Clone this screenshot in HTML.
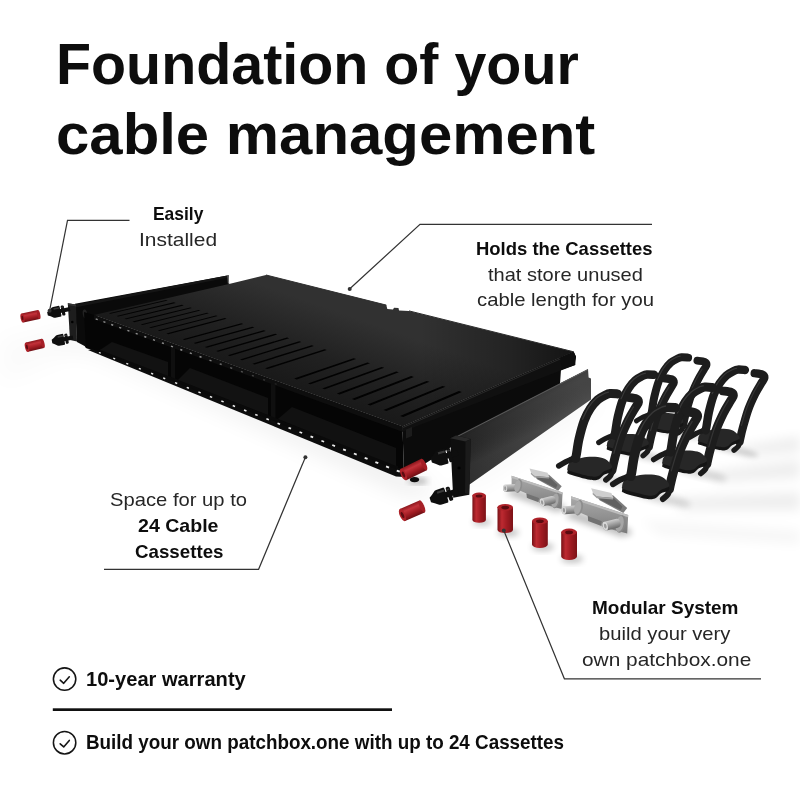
<!DOCTYPE html>
<html><head><meta charset="utf-8">
<style>
html,body{margin:0;padding:0;background:#fff;}
body{width:800px;height:800px;position:relative;overflow:hidden;font-family:"Liberation Sans",sans-serif;color:#111;}
.t{position:absolute;white-space:nowrap;line-height:1;transform-origin:0 0;color:#262626;}
.b{font-weight:bold;color:#0d0d0d;}
#art{position:absolute;left:0;top:0;}
</style></head><body>
<svg id="art" width="800" height="800" viewBox="0 0 800 800">
<!--ART-START-->
<defs>
<filter id="bl12" x="-20%" y="-50%" width="140%" height="200%"><feGaussianBlur stdDeviation="12"/></filter>
<filter id="bl6" x="-20%" y="-50%" width="140%" height="200%"><feGaussianBlur stdDeviation="6"/></filter>
<filter id="bl3" x="-20%" y="-50%" width="140%" height="200%"><feGaussianBlur stdDeviation="3"/></filter>
<linearGradient id="gTop" x1="248" y1="372" x2="277" y2="290" gradientUnits="userSpaceOnUse"><stop offset="0" stop-color="#191919"/><stop offset="0.45" stop-color="#212121"/><stop offset="1" stop-color="#313131"/></linearGradient>
<linearGradient id="gTopR" x1="420" y1="0" x2="575" y2="0" gradientUnits="userSpaceOnUse"><stop offset="0" stop-color="#000" stop-opacity="0"/><stop offset="0.6" stop-color="#000" stop-opacity="0.3"/><stop offset="1" stop-color="#000" stop-opacity="0.6"/></linearGradient>
<linearGradient id="gPanel" x1="455" y1="445" x2="585" y2="400" gradientUnits="userSpaceOnUse"><stop offset="0" stop-color="#222"/><stop offset="0.3" stop-color="#2e2e2e"/><stop offset="0.7" stop-color="#3c3c3c"/><stop offset="1" stop-color="#454545"/></linearGradient>
<linearGradient id="gPanel2" x1="500" y1="400" x2="520" y2="440" gradientUnits="userSpaceOnUse"><stop offset="0" stop-color="#000" stop-opacity="0.25"/><stop offset="0.4" stop-color="#000" stop-opacity="0.0"/><stop offset="1" stop-color="#fff" stop-opacity="0.06"/></linearGradient>
<linearGradient id="gEdge" x1="0" y1="0" x2="0" y2="1"><stop offset="0" stop-color="#3a3a3a"/><stop offset="0.5" stop-color="#1c1c1c"/><stop offset="1" stop-color="#0a0a0a"/></linearGradient>
<linearGradient id="gRed" x1="0" y1="0" x2="1" y2="0"><stop offset="0" stop-color="#771116"/><stop offset="0.28" stop-color="#bd2a31"/><stop offset="0.6" stop-color="#a01b22"/><stop offset="1" stop-color="#7c1217"/></linearGradient>
<linearGradient id="gRedL" x1="0" y1="0" x2="0" y2="1"><stop offset="0" stop-color="#8a161c"/><stop offset="0.3" stop-color="#c2323a"/><stop offset="0.65" stop-color="#a01b22"/><stop offset="1" stop-color="#6e0f14"/></linearGradient>
<linearGradient id="gSil" x1="0" y1="0" x2="0" y2="1"><stop offset="0" stop-color="#aaaaaa"/><stop offset="0.5" stop-color="#939393"/><stop offset="1" stop-color="#7a7a7a"/></linearGradient>
<linearGradient id="gStud" x1="0" y1="0" x2="0" y2="1"><stop offset="0" stop-color="#cfcfcf"/><stop offset="0.45" stop-color="#a2a2a2"/><stop offset="1" stop-color="#6a6a6a"/></linearGradient>
</defs>
<g filter="url(#bl12)" opacity="0.10"><polygon points="40,335 95,350 410,492 440,494 400,470 90,340" fill="#000"/><polygon points="468,490 600,402 585,392 460,480" fill="#000" opacity="0.45"/><polygon points="0,338 80,328 80,350 0,385" fill="#000" opacity="0.2"/></g>
<g filter="url(#bl6)" opacity="0.065"><polygon points="742,446 800,436 800,452 745,456" fill="#000"/><polygon points="712,471 800,460 800,478 716,482" fill="#000"/><polygon points="676,498 800,492 800,510 680,510" fill="#000"/><polygon points="640,520 800,530 800,545 660,535" fill="#000" opacity="0.5"/></g>
<polygon points="75.0,303.8 228.7,275.2 229.2,284.8 96.0,316.0 92.0,350.0 77.0,342.0" fill="#0a0a0a"/>
<polygon points="75.5,304.5 228.7,275.2 228.8,277.6 76.0,307.2" fill="#151515"/>
<polyline points="228,275.3 228.4,283.5" stroke="#9a9a9a" stroke-width="0.9" fill="none"/>
<polygon points="67.8,303.2 76.0,304.6 77.0,341.5 70.0,340.0" fill="#1d1d1d"/>
<polygon points="67.8,303.2 76.0,304.6 76.1,306.4 68.0,305.0" fill="#333"/>
<circle cx="72.3" cy="322" r="1.3" fill="#000"/>
<circle cx="88.7" cy="344.7" r="4" fill="#0a0a0a"/><circle cx="89" cy="345" r="1.6" fill="#e8e8e8"/>
<ellipse cx="85" cy="314" rx="2.2" ry="4.5" fill="#222" transform="rotate(-10 85 314)"/>
<polygon points="84.0,312.0 94.0,315.0 402.5,426.6 404.0,476.0 398.0,476.0 86.0,347.5" fill="#050505"/>
<polygon points="92.0,349.0 404.0,470.0 404.0,477.0 396.0,476.5 88.0,350.0" fill="#0c0c0c"/>
<polygon points="171.0,345.0 175.0,346.5 175.0,384.0 171.0,382.0" fill="#0f0f0f"/>
<polygon points="271.0,381.5 275.5,383.0 275.5,424.5 271.0,422.5" fill="#0f0f0f"/>
<polygon points="100.0,349.0 398.0,466.0 398.0,470.0 100.0,352.5" fill="#0a0a0a"/>
<polygon points="112.0,342.0 168.0,362.0 168.0,376.0 100.0,350.0" fill="#121212"/>
<polygon points="190.0,368.0 268.0,398.0 268.0,415.0 178.0,380.0" fill="#121212"/>
<polygon points="292.0,407.0 396.0,448.0 396.0,466.0 278.0,419.0" fill="#111"/>
<polygon points="402.5,426.6 573.7,351.8 576.0,357.0 574.5,362.5 561.0,369.5 560.0,384.0 452.0,442.0 452.0,446.5 404.0,477.0" fill="#0b0b0b"/>
<polygon points="94.0,315.0 229.0,284.0 266.0,275.0 386.3,305.1 387.3,309.0 393.0,309.4 394.0,307.7 398.5,308.0 399.0,310.4 409.0,310.9 573.7,351.8 402.5,426.6" fill="url(#gTop)"/>
<polygon points="94.0,315.0 229.0,284.0 266.0,275.0 386.3,305.1 387.3,309.0 393.0,309.4 394.0,307.7 398.5,308.0 399.0,310.4 409.0,310.9 573.7,351.8 402.5,426.6" fill="url(#gTopR)"/>
<polygon points="402.5,426.6 573.7,351.8 575.2,365.0 403.0,431.5" fill="#101010"/>
<polyline points="403.0,427.5 574.0,353.0" fill="none" stroke="#333" stroke-width="1" opacity="0.7"/>
<polygon points="560.0,357.5 573.7,351.8 576.0,356.5 575.2,365.0 562.0,369.5" fill="#0e0e0e"/>
<polygon points="94.0,315.0 402.5,426.6 403.0,432.0 94.0,319.3" fill="#0e0e0e"/>
<polyline points="266.0,275.0 386.3,305.1" fill="none" stroke="#2e2e2e" stroke-width="1"/>
<polyline points="409.0,310.9 573.7,351.8" fill="none" stroke="#2e2e2e" stroke-width="1"/>
<polygon points="406.0,429.5 412.0,427.0 412.0,436.0 406.0,438.5" fill="#1c1c1c"/>
<g fill="#020202"><polygon points="108.9,313.3 166.1,299.9 167.7,300.4 110.5,313.8"/><polygon points="116.6,316.0 173.9,302.3 175.6,302.9 118.2,316.6"/><polygon points="124.5,318.8 182.0,304.8 183.7,305.4 126.1,319.3"/><polygon points="132.5,321.6 190.2,307.4 191.9,307.9 134.2,322.2"/><polygon points="140.7,324.5 198.6,310.0 200.4,310.6 142.4,325.1"/><polygon points="149.1,327.4 207.1,312.7 208.9,313.2 150.9,328.1"/><polygon points="157.7,330.5 215.9,315.4 217.7,315.9 159.5,331.1"/><polygon points="166.4,333.5 224.8,318.1 226.6,318.7 168.2,334.2"/><polygon points="182.8,339.3 241.4,323.3 243.3,323.9 184.7,340.0"/><polygon points="193.6,343.1 252.4,326.7 254.4,327.4 195.6,343.8"/><polygon points="204.7,347.0 263.7,330.2 265.7,330.9 206.8,347.8"/><polygon points="216.2,351.1 275.2,333.8 277.3,334.5 218.2,351.8"/><polygon points="227.9,355.2 287.0,337.5 289.2,338.2 230.0,356.0"/><polygon points="240.0,359.5 299.2,341.3 301.4,342.0 242.2,360.2"/><polygon points="252.4,363.8 311.7,345.2 313.9,345.9 254.6,364.6"/><polygon points="265.1,368.3 324.5,349.2 326.8,349.9 267.4,369.1"/><polygon points="294.2,378.6 353.6,358.2 356.1,359.0 296.7,379.4"/><polygon points="308.0,383.4 367.4,362.5 370.0,363.3 310.5,384.3"/><polygon points="322.2,388.4 381.6,366.9 384.2,367.7 324.8,389.3"/><polygon points="336.8,393.6 396.2,371.5 398.9,372.3 339.5,394.5"/><polygon points="351.9,398.9 411.2,376.1 413.9,377.0 354.7,399.9"/><polygon points="367.5,404.4 426.6,380.9 429.5,381.8 370.3,405.4"/><polygon points="383.5,410.0 442.5,385.9 445.4,386.8 386.5,411.1"/><polygon points="400.1,415.9 458.9,391.0 461.9,391.9 403.2,417.0"/></g>
<g fill="#e9e9e9"><rect x="96.7" y="318.8" width="2.1" height="1.4" opacity="0.60" transform="rotate(20 97.9 316.4)"/><rect x="104.4" y="321.6" width="2.1" height="1.4" opacity="0.60" transform="rotate(20 105.6 319.2)"/><rect x="112.2" y="324.4" width="2.1" height="1.4" opacity="0.60" transform="rotate(20 113.4 322.0)"/><rect x="120.2" y="327.3" width="2.1" height="1.4" opacity="0.60" transform="rotate(20 121.4 324.9)"/><rect x="128.4" y="330.3" width="2.1" height="1.4" opacity="0.60" transform="rotate(20 129.6 327.9)"/><rect x="136.7" y="333.3" width="2.1" height="1.4" opacity="0.60" transform="rotate(20 137.9 330.9)"/><rect x="145.3" y="336.4" width="2.1" height="1.4" opacity="0.60" transform="rotate(20 146.5 334.0)"/><rect x="154.0" y="339.5" width="2.1" height="1.4" opacity="0.60" transform="rotate(20 155.2 337.1)"/><rect x="162.9" y="342.7" width="2.1" height="1.4" opacity="0.60" transform="rotate(20 164.1 340.3)"/><rect x="172.0" y="346.0" width="2.1" height="1.4" opacity="0.60" transform="rotate(20 173.2 343.6)"/><rect x="181.3" y="349.4" width="2.1" height="1.4" opacity="0.60" transform="rotate(20 182.5 347.0)"/><rect x="190.8" y="352.8" width="2.1" height="1.4" opacity="0.60" transform="rotate(20 192.0 350.4)"/><rect x="200.5" y="356.4" width="2.1" height="1.4" opacity="0.59" transform="rotate(20 201.7 354.0)"/><rect x="210.5" y="360.0" width="2.1" height="1.4" opacity="0.52" transform="rotate(20 211.7 357.6)"/><rect x="220.7" y="363.7" width="2.1" height="1.4" opacity="0.45" transform="rotate(20 221.9 361.3)"/><rect x="231.2" y="367.5" width="2.1" height="1.4" opacity="0.38" transform="rotate(20 232.4 365.1)"/><rect x="241.9" y="371.3" width="2.1" height="1.4" opacity="0.31" transform="rotate(20 243.1 368.9)"/><rect x="252.9" y="375.3" width="2.1" height="1.4" opacity="0.24" transform="rotate(20 254.1 372.9)"/><rect x="264.1" y="379.4" width="2.1" height="1.4" opacity="0.16" transform="rotate(20 265.3 377.0)"/><rect x="275.7" y="383.6" width="2.1" height="1.4" opacity="0.09" transform="rotate(20 276.9 381.2)"/></g>
<g fill="#ededed"><rect x="98.7" y="352.3" width="2.0" height="1.3" transform="rotate(21 100.0 353.2)"/><rect x="113.1" y="358.0" width="2.0" height="1.3" transform="rotate(21 114.4 358.9)"/><rect x="126.1" y="363.1" width="2.1" height="1.3" transform="rotate(21 127.4 364.0)"/><rect x="138.7" y="368.1" width="2.1" height="1.4" transform="rotate(21 140.0 369.0)"/><rect x="151.0" y="373.0" width="2.2" height="1.4" transform="rotate(21 152.3 373.9)"/><rect x="163.0" y="377.7" width="2.2" height="1.4" transform="rotate(21 164.3 378.6)"/><rect x="174.9" y="382.4" width="2.3" height="1.4" transform="rotate(21 176.2 383.3)"/><rect x="186.6" y="387.1" width="2.3" height="1.5" transform="rotate(21 187.9 388.0)"/><rect x="198.3" y="391.7" width="2.4" height="1.5" transform="rotate(21 199.6 392.6)"/><rect x="209.8" y="396.2" width="2.4" height="1.5" transform="rotate(21 211.1 397.1)"/><rect x="221.2" y="400.7" width="2.5" height="1.5" transform="rotate(21 222.5 401.6)"/><rect x="232.6" y="405.2" width="2.5" height="1.6" transform="rotate(21 233.9 406.1)"/><rect x="243.9" y="409.7" width="2.6" height="1.6" transform="rotate(21 245.2 410.6)"/><rect x="255.1" y="414.1" width="2.6" height="1.6" transform="rotate(21 256.4 415.0)"/><rect x="266.3" y="418.5" width="2.6" height="1.6" transform="rotate(21 267.6 419.4)"/><rect x="277.4" y="422.9" width="2.7" height="1.6" transform="rotate(21 278.7 423.8)"/><rect x="288.4" y="427.3" width="2.7" height="1.7" transform="rotate(21 289.7 428.2)"/><rect x="299.4" y="431.6" width="2.8" height="1.7" transform="rotate(21 300.7 432.5)"/><rect x="310.4" y="436.0" width="2.8" height="1.7" transform="rotate(21 311.7 436.9)"/><rect x="321.3" y="440.3" width="2.9" height="1.7" transform="rotate(21 322.6 441.2)"/><rect x="332.2" y="444.6" width="2.9" height="1.8" transform="rotate(21 333.5 445.5)"/><rect x="343.0" y="448.9" width="3.0" height="1.8" transform="rotate(21 344.3 449.8)"/><rect x="353.8" y="453.1" width="3.0" height="1.8" transform="rotate(21 355.1 454.0)"/><rect x="364.6" y="457.4" width="3.1" height="1.8" transform="rotate(21 365.9 458.3)"/><rect x="375.3" y="461.6" width="3.1" height="1.9" transform="rotate(21 376.6 462.5)"/><rect x="386.0" y="465.9" width="3.2" height="1.9" transform="rotate(21 387.3 466.8)"/><rect x="396.7" y="470.1" width="3.2" height="1.9" transform="rotate(21 398.0 471.0)"/></g>
<polygon points="451.7,438.4 588.0,369.0 588.6,377.5 591.0,378.5 591.0,399.5 469.5,484.5 466.0,484.0" fill="url(#gPanel)"/>
<polygon points="451.7,438.4 588.0,369.0 588.6,377.5 591.0,378.5 591.0,399.5 469.5,484.5 466.0,484.0" fill="url(#gPanel2)"/>
<polyline points="452.0,439.2 588.0,369.6" fill="none" stroke="#5a5a5a" stroke-width="1"/>
<polygon points="450.2,438.2 456.0,435.5 471.0,439.0 470.4,447.0 469.2,494.8 453.2,497.8" fill="#0e0e0e"/>
<polygon points="450.2,438.2 456.0,435.5 471.0,439.0 465.5,441.5" fill="#2a2a2a"/>
<polygon points="465.5,441.5 471.0,439.0 469.2,494.8 465.0,493.0" fill="#1b1b1b"/>
<circle cx="459" cy="468" r="1.6" fill="#000"/>
<g transform="translate(47.5,313.8) rotate(-12.0)" fill="#0e0e0e"><rect x="11.5" y="-2.0" width="11.5" height="4.0"/><path d="M0,-1.7 Q2.3,-2.8 5.5,-5.2 L6.9,-5.5 L12.9,-5.5 L13.3,-4.4 L13.3,4.4 L12.9,5.5 L6.9,5.5 L5.5,5.2 Q2.3,2.8 0,1.7 Z"/><rect x="14.3" y="-5.1" width="3.2" height="10.2" rx="1.2"/><rect x="6.9" y="-4.1" width="5.8" height="1.5" fill="#3a3a3a"/><rect x="14.7" y="-3.9" width="2.3" height="1.2" fill="#333"/></g>
<g transform="translate(52.0,341.5) rotate(-10.8)" fill="#0e0e0e"><rect x="10.7" y="-2.0" width="10.7" height="4.0"/><path d="M0,-1.7 Q2.1,-2.8 5.1,-5.2 L6.4,-5.5 L12.0,-5.5 L12.4,-4.4 L12.4,4.4 L12.0,5.5 L6.4,5.5 L5.1,5.2 Q2.1,2.8 0,1.7 Z"/><rect x="13.3" y="-5.1" width="3.0" height="10.2" rx="1.1"/><rect x="6.4" y="-4.1" width="5.3" height="1.5" fill="#3a3a3a"/><rect x="13.7" y="-3.9" width="2.1" height="1.2" fill="#333"/></g>
<g transform="translate(431.3,460.2) rotate(-15.5)" fill="#0e0e0e"><rect x="13.9" y="-2.8" width="13.9" height="5.6"/><path d="M0,-2.3 Q2.8,-3.9 6.6,-7.4 L8.3,-7.8 L15.5,-7.8 L16.1,-6.3 L16.1,6.3 L15.5,7.8 L8.3,7.8 L6.6,7.4 Q2.8,3.9 0,2.3 Z"/><rect x="17.2" y="-7.2" width="3.9" height="14.4" rx="1.4"/><rect x="8.3" y="-5.9" width="6.9" height="2.2" fill="#3a3a3a"/><rect x="17.7" y="-5.5" width="2.8" height="1.7" fill="#333"/></g>
<g transform="translate(430.3,500.0) rotate(-18.0)" fill="#0e0e0e"><rect x="14.6" y="-2.8" width="14.6" height="5.6"/><path d="M0,-2.3 Q2.9,-3.9 7.0,-7.4 L8.7,-7.8 L16.3,-7.8 L16.9,-6.3 L16.9,6.3 L16.3,7.8 L8.7,7.8 L7.0,7.4 Q2.9,3.9 0,2.3 Z"/><rect x="18.1" y="-7.2" width="4.1" height="14.4" rx="1.5"/><rect x="8.7" y="-5.9" width="7.3" height="2.2" fill="#3a3a3a"/><rect x="18.6" y="-5.5" width="2.9" height="1.7" fill="#333"/></g>
<g transform="translate(22.5,318.0) rotate(-11.9)"><rect x="0" y="-4.6" width="16.6" height="9.2" fill="url(#gRedL)"/><ellipse cx="16.6" cy="0" rx="1.5" ry="4.6" fill="#a51f26"/><ellipse cx="0" cy="0" rx="1.9" ry="4.6" fill="#ae2229"/><ellipse cx="0" cy="0" rx="0.9" ry="2.3" fill="#5d0c11"/></g>
<g transform="translate(27.0,347.2) rotate(-13.5)"><rect x="0" y="-4.8" width="16.3" height="9.6" fill="url(#gRedL)"/><ellipse cx="16.3" cy="0" rx="1.6" ry="4.8" fill="#a51f26"/><ellipse cx="0" cy="0" rx="2.0" ry="4.8" fill="#ae2229"/><ellipse cx="0" cy="0" rx="1.0" ry="2.4" fill="#5d0c11"/></g>
<ellipse cx="418" cy="481" rx="10" ry="2.5" fill="#000" opacity="0.35" filter="url(#bl3)"/>
<ellipse cx="414.5" cy="479.6" rx="4.6" ry="2.6" fill="#0c0c0c"/>
<g transform="translate(403.5,474.5) rotate(-26.0)"><rect x="0" y="-6.3" width="22.8" height="12.6" fill="url(#gRedL)"/><ellipse cx="22.8" cy="0" rx="2.1" ry="6.3" fill="#a51f26"/><ellipse cx="0" cy="0" rx="2.6" ry="6.3" fill="#ae2229"/><ellipse cx="0" cy="0" rx="1.3" ry="3.1" fill="#5d0c11"/></g>
<g transform="translate(402.5,515.0) rotate(-23.6)"><rect x="0" y="-6.6" width="21.3" height="13.2" fill="url(#gRedL)"/><ellipse cx="21.3" cy="0" rx="2.2" ry="6.6" fill="#a51f26"/><ellipse cx="0" cy="0" rx="2.8" ry="6.6" fill="#ae2229"/><ellipse cx="0" cy="0" rx="1.3" ry="3.3" fill="#5d0c11"/></g>
<ellipse cx="482.1" cy="522.0" rx="9.4" ry="3.3" fill="#000" opacity="0.25" filter="url(#bl3)"/><path d="M472.4,495.6 L472.4,520.0 A6.8,3.0 0 0 0 485.9,520.0 L485.9,495.6 Z" fill="url(#gRed)"/><ellipse cx="479.1" cy="495.6" rx="6.8" ry="3.0" fill="#ae2229"/><ellipse cx="479.1" cy="495.9" rx="3.4" ry="1.5" fill="#5a0b10"/>
<ellipse cx="508.2" cy="532.5" rx="10.8" ry="3.8" fill="#000" opacity="0.25" filter="url(#bl3)"/><path d="M497.5,507.3 L497.5,530.1 A7.8,3.4 0 0 0 513.0,530.1 L513.0,507.3 Z" fill="url(#gRed)"/><ellipse cx="505.2" cy="507.3" rx="7.8" ry="3.4" fill="#ae2229"/><ellipse cx="505.2" cy="507.6" rx="3.9" ry="1.8" fill="#5a0b10"/>
<ellipse cx="542.9" cy="547.0" rx="11.1" ry="3.8" fill="#000" opacity="0.25" filter="url(#bl3)"/><path d="M532.0,520.9 L532.0,544.5 A7.9,3.5 0 0 0 547.8,544.5 L547.8,520.9 Z" fill="url(#gRed)"/><ellipse cx="539.9" cy="520.9" rx="7.9" ry="3.5" fill="#ae2229"/><ellipse cx="539.9" cy="521.2" rx="3.9" ry="1.8" fill="#5a0b10"/>
<ellipse cx="572.1" cy="559.0" rx="11.1" ry="3.8" fill="#000" opacity="0.25" filter="url(#bl3)"/><path d="M561.2,532.1 L561.2,556.5 A7.9,3.5 0 0 0 577.0,556.5 L577.0,532.1 Z" fill="url(#gRed)"/><ellipse cx="569.1" cy="532.1" rx="7.9" ry="3.5" fill="#ae2229"/><ellipse cx="569.1" cy="532.4" rx="3.9" ry="1.8" fill="#5a0b10"/>
<g transform="translate(0.0,0.0) scale(1.0)"><polygon points="506,494 556,512 566,510 564,505 514,488" fill="#000" opacity="0.25" filter="url(#bl3)"/><polygon points="511.6,475.7 562.6,492.4 561.7,509 548,505.5 539,502.5 538.5,499.5 527,495.5 526.5,493.5 511.6,487" fill="url(#gSil)"/><polygon points="511.6,475.7 562.6,492.4 562.4,494.6 511.6,477.9" fill="#bcbcbc"/><polygon points="526.5,493.5 539,498 538.6,502.3 526.8,497.8" fill="#727272"/><g transform="translate(503.2,488.4) rotate(-4)"><rect x="0" y="-3.6" width="15" height="7.2" rx="3" fill="url(#gStud)"/><ellipse cx="2" cy="0" rx="2" ry="3.6" fill="#d4d4d4"/><ellipse cx="2" cy="0" rx="1" ry="2" fill="#9a9a9a"/></g><ellipse cx="518.5" cy="486" rx="3.6" ry="7" fill="#8e8e8e" transform="rotate(12 518.5 486)"/><ellipse cx="517.5" cy="486" rx="3" ry="6.2" fill="#aaa" transform="rotate(12 517.5 486)"/><ellipse cx="556" cy="500.5" rx="4" ry="8" fill="#888" transform="rotate(12 556 500.5)"/><ellipse cx="555" cy="500.5" rx="3.4" ry="7.2" fill="#a6a6a6" transform="rotate(12 555 500.5)"/><g transform="translate(540,503) rotate(-14)"><rect x="0" y="-4" width="16" height="8" rx="3.4" fill="url(#gStud)"/><ellipse cx="2.2" cy="0" rx="2.2" ry="4" fill="#d8d8d8"/><ellipse cx="2.2" cy="0" rx="1.1" ry="2.2" fill="#9a9a9a"/></g><polygon points="534.4,475.5 549,474.8 561.7,486.2 558.2,490.8 537,479.3" fill="#7c7c7c"/><polygon points="536,476.5 548,476 557.5,485 556,488 538,479" fill="#616161"/><polygon points="529.5,468.6 547.5,472.8 549.4,477.3 535,475.9 531,472.5" fill="#cecece"/><polygon points="531,472.5 535,475.9 549.4,477.3 549,478.6 534.5,477.5 530.8,474" fill="#a0a0a0"/></g>
<g transform="translate(-1.9,-36.6) scale(1.12)"><polygon points="506,494 556,512 566,510 564,505 514,488" fill="#000" opacity="0.25" filter="url(#bl3)"/><polygon points="511.6,475.7 562.6,492.4 561.7,509 548,505.5 539,502.5 538.5,499.5 527,495.5 526.5,493.5 511.6,487" fill="url(#gSil)"/><polygon points="511.6,475.7 562.6,492.4 562.4,494.6 511.6,477.9" fill="#bcbcbc"/><polygon points="526.5,493.5 539,498 538.6,502.3 526.8,497.8" fill="#727272"/><g transform="translate(503.2,488.4) rotate(-4)"><rect x="0" y="-3.6" width="15" height="7.2" rx="3" fill="url(#gStud)"/><ellipse cx="2" cy="0" rx="2" ry="3.6" fill="#d4d4d4"/><ellipse cx="2" cy="0" rx="1" ry="2" fill="#9a9a9a"/></g><ellipse cx="518.5" cy="486" rx="3.6" ry="7" fill="#8e8e8e" transform="rotate(12 518.5 486)"/><ellipse cx="517.5" cy="486" rx="3" ry="6.2" fill="#aaa" transform="rotate(12 517.5 486)"/><ellipse cx="556" cy="500.5" rx="4" ry="8" fill="#888" transform="rotate(12 556 500.5)"/><ellipse cx="555" cy="500.5" rx="3.4" ry="7.2" fill="#a6a6a6" transform="rotate(12 555 500.5)"/><g transform="translate(540,503) rotate(-14)"><rect x="0" y="-4" width="16" height="8" rx="3.4" fill="url(#gStud)"/><ellipse cx="2.2" cy="0" rx="2.2" ry="4" fill="#d8d8d8"/><ellipse cx="2.2" cy="0" rx="1.1" ry="2.2" fill="#9a9a9a"/></g><polygon points="534.4,475.5 549,474.8 561.7,486.2 558.2,490.8 537,479.3" fill="#7c7c7c"/><polygon points="536,476.5 548,476 557.5,485 556,488 538,479" fill="#616161"/><polygon points="529.5,468.6 547.5,472.8 549.4,477.3 535,475.9 531,472.5" fill="#cecece"/><polygon points="531,472.5 535,475.9 549.4,477.3 549,478.6 534.5,477.5 530.8,474" fill="#a0a0a0"/></g>
<defs><g id="hook"><ellipse cx="603" cy="479" rx="30" ry="4.5" fill="#000" opacity="0.16" filter="url(#bl3)" transform="rotate(14 603 479)"/><path d="M605.9,480.4 C606.7,479.7 609.5,477.7 610.6,476.0 C611.7,474.3 611.9,471.0 612.2,470.0" fill="none" stroke="#1b1b1b" stroke-width="5.6" stroke-linecap="round" stroke-linejoin="round"/><path d="M612.0,471.0 C612.1,470.5 612.0,470.8 612.6,468.0 C613.2,465.2 614.4,459.7 615.9,454.4 C617.4,449.1 619.4,441.7 621.5,436.0 C623.6,430.3 626.2,424.9 628.5,420.2 C630.8,415.5 633.8,410.9 635.5,408.0 C637.2,405.1 638.4,404.1 638.5,402.6 C638.6,401.1 638.0,400.0 636.2,399.2 C634.5,398.4 629.4,398.1 628.0,397.9" fill="none" stroke="#1d1d1d" stroke-width="8.8" stroke-linecap="round" stroke-linejoin="round"/><path d="M567.5,472.0 C567.7,470.5 567.8,467.5 571.0,465.7 C574.2,463.9 581.2,461.6 586.5,461.0 C591.8,460.4 598.5,460.7 602.5,461.8 C606.5,462.9 609.0,465.7 610.5,467.4 C612.0,469.1 612.6,470.6 611.5,471.9 C610.4,473.2 606.2,473.9 604.0,475.2 C601.8,476.5 600.8,479.1 598.5,479.9 C596.2,480.7 594.8,481.0 590.0,480.2 C585.2,479.4 573.8,476.3 570.0,474.9 C566.2,473.5 567.3,473.5 567.5,472.0Z" fill="#151515"/><path d="M567.5,468.6 C567.7,467.1 567.8,464.1 571.0,462.3 C574.2,460.5 581.2,458.2 586.5,457.6 C591.8,457.0 598.5,457.3 602.5,458.4 C606.5,459.5 609.0,462.3 610.5,464.0 C612.0,465.7 612.6,467.2 611.5,468.5 C610.4,469.8 606.2,470.5 604.0,471.8 C601.8,473.1 600.8,475.7 598.5,476.5 C596.2,477.3 594.8,477.6 590.0,476.8 C585.2,476.0 573.8,472.9 570.0,471.5 C566.2,470.1 567.3,470.1 567.5,468.6Z" fill="#272727"/><path d="M558.8,466.4 C559.9,465.7 563.4,463.5 565.5,462.4 C567.6,461.3 569.9,460.6 571.6,459.8 C573.3,459.0 575.1,457.9 575.8,457.5" fill="none" stroke="#1b1b1b" stroke-width="5.6" stroke-linecap="round" stroke-linejoin="round"/><path d="M575.6,459.0 C575.7,458.3 575.8,458.2 576.4,455.0 C577.0,451.8 577.7,445.1 579.0,439.5 C580.3,433.9 582.3,426.2 584.2,421.1 C586.1,416.0 588.1,412.4 590.4,408.9 C592.7,405.4 595.3,402.4 597.9,400.1 C600.5,397.9 603.7,396.4 605.7,395.4 C607.7,394.4 608.1,394.2 610.1,394.0 C612.1,393.8 616.4,394.3 617.6,394.4" fill="none" stroke="#1d1d1d" stroke-width="9" stroke-linecap="round" stroke-linejoin="round"/><path d="M582.5,419.8 C583.5,417.8 586.4,411.1 588.7,407.6 C591.0,404.1 593.6,401.1 596.2,398.8 C598.8,396.6 602.0,395.1 604.0,394.1 C606.0,393.1 607.7,392.9 608.4,392.7" fill="none" stroke="#454545" stroke-width="1.3" stroke-linecap="round" opacity="0.7"/><path d="M613.9,453.8 C614.8,450.7 617.4,441.1 619.5,435.4 C621.6,429.7 624.2,424.3 626.5,419.6 C628.8,414.9 632.3,409.4 633.5,407.4" fill="none" stroke="#454545" stroke-width="1.2" stroke-linecap="round" opacity="0.6"/></g></defs>
<use href="#hook" transform="translate(144.7,10.5) scale(0.88)"/>
<use href="#hook" transform="translate(168.7,2.0) scale(0.933)"/>
<use href="#hook" transform="translate(73.5,4.1) scale(0.94)"/>
<use href="#hook" transform="translate(94.9,-6.9) scale(1.0)"/>
<use href="#hook" transform="translate(0.0,-0.5) scale(1.0)"/>
<use href="#hook" transform="translate(20.6,-10.2) scale(1.06)"/>
<!--ART-END-->
<!--LINES-START-->
<g fill="none" stroke="#333" stroke-width="1.2">
<polyline points="129.5,220.4 67.5,220.4 49.6,310.6"/>
<polyline points="652,224.4 420,224.4 349.8,288.8"/>
<polyline points="104,569.3 258.6,569.3 305.3,457.4"/>
<polyline points="761,678.8 564.4,678.8 503.8,530.6"/>
</g>
<g fill="#333"><circle cx="49.6" cy="310.8" r="2"/><circle cx="349.7" cy="289" r="2"/><circle cx="305.4" cy="457.2" r="2"/><circle cx="503.8" cy="530.4" r="2"/></g>
<rect x="52.8" y="708.3" width="339.2" height="2.7" fill="#111"/>
<g fill="none" stroke="#151515" stroke-width="1.55">
<circle cx="64.6" cy="679.1" r="11.2"/><polyline points="60.2,680.2 63.7,683.3 69.3,676.8" stroke-width="1.6" stroke-linecap="round" stroke-linejoin="round"/>
<circle cx="64.6" cy="742.7" r="11.2"/><polyline points="60.2,743.8 63.7,746.9 69.3,740.4" stroke-width="1.6" stroke-linecap="round" stroke-linejoin="round"/>
</g>
<!--LINES-END-->
</svg>
<div class="t b" id="h1" style="left:56.0px;top:35.5px;font-size:57px;transform:scaleX(1.0068);">Foundation of your</div>
<div class="t b" id="h2" style="left:55.9px;top:105.5px;font-size:57px;transform:scaleX(1.0509);">cable management</div>
<div class="t b" id="a1" style="left:153.1px;top:204.1px;font-size:19px;transform:scaleX(0.9168);">Easily</div>
<div class="t" id="a2" style="left:138.8px;top:229.5px;font-size:19px;transform:scaleX(1.1029);">Installed</div>
<div class="t b" id="b1" style="left:476.0px;top:239.1px;font-size:19px;transform:scaleX(0.9721);">Holds the Cassettes</div>
<div class="t" id="b2" style="left:488.0px;top:264.5px;font-size:19px;transform:scaleX(1.0548);">that store unused</div>
<div class="t" id="b3" style="left:477.0px;top:290.1px;font-size:19px;transform:scaleX(1.0671);">cable length for you</div>
<div class="t" id="c1" style="left:110.0px;top:490.3px;font-size:19px;transform:scaleX(1.0630);">Space for up to</div>
<div class="t b" id="c2" style="left:138.0px;top:516.1px;font-size:19px;transform:scaleX(1.0292);">24 Cable</div>
<div class="t b" id="c3" style="left:135.0px;top:541.6px;font-size:19px;transform:scaleX(0.9858);">Cassettes</div>
<div class="t b" id="d1" style="left:592.0px;top:598.1px;font-size:19px;transform:scaleX(0.9979);">Modular System</div>
<div class="t" id="d2" style="left:598.5px;top:624.1px;font-size:19px;transform:scaleX(1.0639);">build your very</div>
<div class="t" id="d3" style="left:582.0px;top:649.7px;font-size:19px;transform:scaleX(1.0975);">own patchbox.one</div>
<div class="t b" id="e1" style="left:86.0px;top:670.0px;font-size:19.8px;transform:scaleX(1.0160);">10-year warranty</div>
<div class="t b" id="e2" style="left:86.0px;top:733.1px;font-size:19.8px;transform:scaleX(0.9517);">Build your own patchbox.one with up to 24 Cassettes</div>

</body></html>
